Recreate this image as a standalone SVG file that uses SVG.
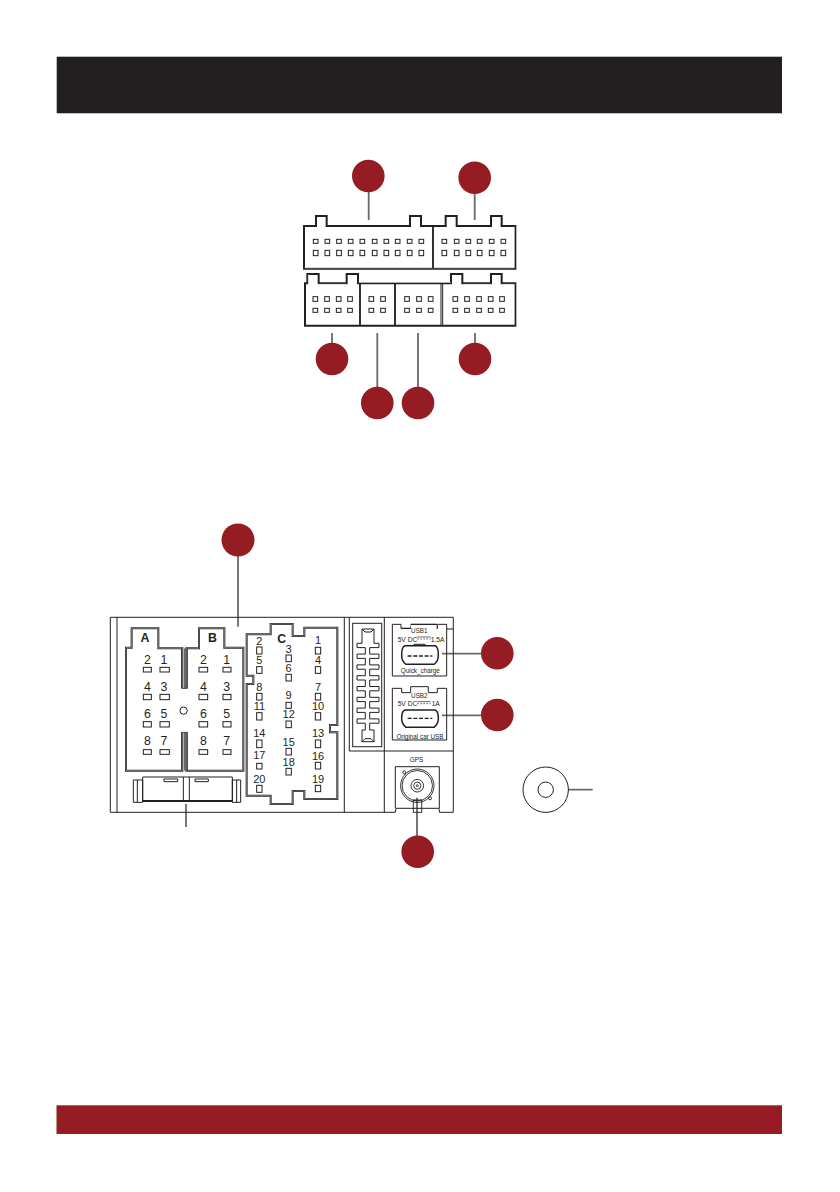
<svg xmlns="http://www.w3.org/2000/svg" width="840" height="1192" viewBox="0 0 840 1192">
<style>
.t{font-family:"Liberation Sans",Arial,sans-serif;fill:#231f20}
.d{font-size:37px;text-anchor:middle}
.c{font-size:33px;text-anchor:middle}
.b{font-size:37px;font-weight:700;text-anchor:middle}
.u{font-size:19px}
.m{text-anchor:middle}
.e{text-anchor:end}
.p{fill:#fff;stroke:#231f20;stroke-width:3}
.l{fill:none;stroke:#231f20;stroke-width:3}
.o{fill:#fff;stroke:#231f20;stroke-width:6}
.i{fill:none;stroke:#fff;stroke-width:1.2}
.k{fill:none;stroke:#231f20;stroke-width:5.5}
.w{fill:none;stroke:#fff;stroke-width:1.6}
.g{stroke:#6a6a6a;stroke-width:1.8;fill:none}
.r{fill:#941c22}
</style>
<defs>
<path id="hAb" d="M78,128H95V70H175V130H247V497H78Z"/>
<path id="hBb" d="M259,130H297V70H373V128H430V497H259Z"/>
<path id="hC" d="M440,88H512V57H578V93H613V68H712V360H690V382H712V582H613V558H578V597H512V572H440V237H460V212H440Z"/>
</defs>
<g id="header"><rect x="56.7" y="56.7" width="725.3" height="56.6" fill="#231f20"/></g>
<g id="footer"><rect x="56.5" y="1105.3" width="725.5" height="28.7" class="r"/></g>

<g id="connectors">
<path class="g" d="M368.7 192V220M474.7 193V220M332 333V345M377.3 333V390M418 333V390M475 333V345M238 556V626.7M186 804V827M442 653.7H481M442 715.3H481M417 797.7V836M568 789.7H592.7"/>
</g>

<g id="connector-block-top" transform="translate(290 150) scale(.33333)">
<path d="M42,228H78V198H110V228H360V198H393V228H467V198H500V228H603V198H635V228H676V356H42Z" fill="#fff" stroke="#231f20" stroke-width="6"/>
<path class="w" d="M673,230V353.500H44"/>
<path d="M429,228V354" class="k"/>
<g class="p">
<rect x="70" y="268" width="14" height="12"/><rect x="105" y="268" width="14" height="12"/><rect x="140" y="268" width="14" height="12"/><rect x="175" y="268" width="14" height="12"/><rect x="210" y="268" width="14" height="12"/><rect x="247" y="268" width="14" height="12"/><rect x="282" y="268" width="14" height="12"/><rect x="316" y="268" width="14" height="12"/><rect x="352" y="268" width="14" height="12"/><rect x="387" y="268" width="14" height="12"/>
<rect x="456" y="268" width="14" height="12"/><rect x="493" y="268" width="14" height="12"/><rect x="528" y="268" width="14" height="12"/><rect x="562" y="268" width="14" height="12"/><rect x="598" y="268" width="14" height="12"/><rect x="633" y="268" width="14" height="12"/>
<rect x="70" y="301" width="14" height="16"/><rect x="105" y="301" width="14" height="16"/><rect x="140" y="301" width="14" height="16"/><rect x="175" y="301" width="14" height="16"/><rect x="210" y="301" width="14" height="16"/><rect x="247" y="301" width="14" height="16"/><rect x="282" y="301" width="14" height="16"/><rect x="316" y="301" width="14" height="16"/><rect x="352" y="301" width="14" height="16"/><rect x="387" y="301" width="14" height="16"/>
<rect x="456" y="301" width="14" height="16"/><rect x="493" y="301" width="14" height="16"/><rect x="528" y="301" width="14" height="16"/><rect x="562" y="301" width="14" height="16"/><rect x="598" y="301" width="14" height="16"/><rect x="633" y="301" width="14" height="16"/>
</g>
</g>

<g id="connector-block-bottom" transform="translate(290 150) scale(.33333)">
<path d="M45,400H52V372H86V400H170V372H204V400H483V372H517V400H603V372H635V400H676V527H45Z" fill="#fff" stroke="#231f20" stroke-width="6"/>
<path class="w" d="M55,374V403H170M206,397.500H483M519,403H603M637,403H673V524"/>
<path class="k" d="M210,400V527M315,400V527"/>
<path d="M453,400V527M458,400V527" class="l"/>
<g class="p">
<rect x="69" y="440" width="14" height="14"/><rect x="104" y="440" width="14" height="14"/><rect x="139" y="440" width="14" height="14"/><rect x="173" y="440" width="14" height="14"/>
<rect x="237" y="440" width="14" height="14"/><rect x="272" y="440" width="14" height="14"/>
<rect x="344" y="440" width="14" height="14"/><rect x="380" y="440" width="14" height="14"/><rect x="415" y="440" width="14" height="14"/>
<rect x="489" y="440" width="14" height="14"/><rect x="524" y="440" width="14" height="14"/><rect x="560" y="440" width="14" height="14"/><rect x="595" y="440" width="14" height="14"/><rect x="629" y="440" width="14" height="14"/>
<rect x="69" y="475" width="14" height="12"/><rect x="104" y="475" width="14" height="12"/><rect x="139" y="475" width="14" height="12"/><rect x="173" y="475" width="14" height="12"/>
<rect x="237" y="475" width="14" height="12"/><rect x="272" y="475" width="14" height="12"/>
<rect x="344" y="475" width="14" height="12"/><rect x="380" y="475" width="14" height="12"/><rect x="415" y="475" width="14" height="12"/>
<rect x="489" y="475" width="14" height="12"/><rect x="524" y="475" width="14" height="12"/><rect x="560" y="475" width="14" height="12"/><rect x="595" y="475" width="14" height="12"/><rect x="629" y="475" width="14" height="12"/>
</g>
</g>

<g id="panel">
<path fill="none" stroke="#231f20" stroke-width="1" d="M110.300,617.300H453.300V812.300H439.500L439,808.300H396L395.300,812.300H110.300ZM117,617.300V812.300M344.300,617.300V812.300M349.300,617.300V751H453.300M384.300,617.300V812.300M395.300,808.300V766.700H439.300V808.300"/>
</g>

<g id="iso-connector" transform="translate(100 605) scale(.33333)">
<use href="#hAb" class="o"/><use href="#hAb" class="i"/>
<use href="#hBb" class="o"/><use href="#hBb" class="i"/>
<rect x="240" y="250" width="24" height="132" fill="#fff"/>
<path class="l" style="stroke-width:2.400" d="M245,250V130M262,250V130M254,250V130M245,250H262M245,382V497M262,382V497M254,382V497M245,382H262"/>
<circle cx="251" cy="317" r="11" class="p"/>
<text class="t b" x="135" y="112">A</text><text class="t b" x="337" y="112">B</text>
<g class="t d">
<text x="142" y="178">2</text><text x="192" y="178">1</text><text x="142" y="258">4</text><text x="192" y="258">3</text><text x="142" y="340">6</text><text x="192" y="340">5</text><text x="142" y="421">8</text><text x="192" y="421">7</text>
<text x="310" y="178">2</text><text x="380" y="178">1</text><text x="310" y="258">4</text><text x="380" y="258">3</text><text x="310" y="340">6</text><text x="380" y="340">5</text><text x="310" y="421">8</text><text x="380" y="421">7</text>
</g>
<g class="p">
<rect x="130" y="187" width="24" height="14"/><rect x="180" y="187" width="28" height="14"/><rect x="130" y="268" width="24" height="16"/><rect x="180" y="268" width="28" height="16"/><rect x="130" y="350" width="24" height="16"/><rect x="180" y="350" width="28" height="16"/><rect x="130" y="434" width="24" height="14"/><rect x="180" y="434" width="28" height="14"/>
<rect x="297" y="187" width="26" height="14"/><rect x="369" y="187" width="24" height="14"/><rect x="297" y="268" width="26" height="16"/><rect x="369" y="268" width="24" height="16"/><rect x="297" y="350" width="26" height="16"/><rect x="369" y="350" width="24" height="16"/><rect x="297" y="434" width="26" height="14"/><rect x="369" y="434" width="24" height="14"/>
</g>
<use href="#hC" class="o"/><use href="#hC" class="i"/>
<text class="t b" x="545" y="113">C</text>
<g class="t c">
<text x="478" y="120">2</text><text x="478" y="178">5</text><text x="478" y="258">8</text><text x="478" y="315">11</text><text x="478" y="397">14</text><text x="478" y="463">17</text><text x="478" y="533">20</text>
<text x="566" y="145">3</text><text x="566" y="200">6</text><text x="566" y="282">9</text><text x="566" y="340">12</text><text x="566" y="422">15</text><text x="566" y="482">18</text>
<text x="654" y="118">1</text><text x="654" y="178">4</text><text x="654" y="258">7</text><text x="654" y="315">10</text><text x="654" y="397">13</text><text x="654" y="465">16</text><text x="654" y="533">19</text>
</g>
<g class="p">
<rect x="470" y="126" width="16" height="21"/><rect x="470" y="185" width="16" height="20"/><rect x="470" y="265" width="16" height="20"/><rect x="470" y="323" width="16" height="22"/><rect x="470" y="405" width="16" height="23"/><rect x="470" y="475" width="16" height="17"/><rect x="470" y="541" width="16" height="21"/>
<rect x="558" y="150" width="16" height="20"/><rect x="558" y="208" width="16" height="20"/><rect x="558" y="292" width="16" height="18"/><rect x="558" y="348" width="16" height="20"/><rect x="558" y="430" width="16" height="20"/><rect x="558" y="490" width="16" height="20"/>
<rect x="646" y="127" width="16" height="20"/><rect x="646" y="185" width="16" height="20"/><rect x="646" y="265" width="16" height="20"/><rect x="646" y="323" width="16" height="22"/><rect x="646" y="405" width="16" height="23"/><rect x="646" y="472" width="16" height="20"/><rect x="646" y="541" width="16" height="19"/>
</g>
<path class="l" d="M128,516H397V588H128ZM100,525H128V592H100ZM397,525H422V592H397ZM250,516V588M268,516V588M112,525V592M410,525V592M192,522H233V530H192ZM285,522H325V530H285Z"/>
<path d="M128,588H397" class="k"/>
</g>

<g id="fishbone">
<rect x="352.700" y="623.300" width="29" height="123.400" fill="none" stroke="#231f20" stroke-width="1"/>
<path fill="none" stroke="#231f20" stroke-width="1" d="M362,629H374V643.300H379V647.600H369.700V654.100H379V658.400H369.700V664.900H379V669.200H369.700V675.700H379V680H369.700V686.500H379V690.800H369.700V697.300H379V701.600H369.700V708.100H379V712.400H369.700V718.900H379V723.200H369.700V730H374V741.700H362V730H365.300V723.200H357V718.900H365.300V712.400H357V708.100H365.300V701.600H357V697.300H365.300V690.800H357V686.500H365.300V680H357V675.700H365.300V669.200H357V664.900H365.300V658.400H357V654.100H365.300V647.600H357V643.300H362ZM362,629L365,632H371L374,629M362,741.700L365,738.700H371L374,741.700"/>
</g>

<g id="usb1" transform="translate(340 605) scale(.33333)">
<path class="l" d="M157,58H183V70H213V58H290V70H292V58H320V213H157Z"/>
<path class="l" d="M320,72H340"/>
<rect x="213" y="60" width="77" height="12" fill="#fff"/>
<path class="l" d="M183,70H213M290,70H292M213,58H290"/>
<text class="t u m" x="238" y="83">USB1</text>
<text class="t u" x="173" y="110" font-size="20" style="font-size:20px">5V DC</text>
<text class="t u e" x="313" y="110" style="font-size:20px">1.5A</text>
<path class="l" style="stroke-width:2" d="M232,96H272"/>
<path fill="none" stroke="#231f20" stroke-width="2" stroke-dasharray="5 4" d="M232,102H272"/>
<path class="o" style="stroke-width:4.500" d="M195,122H285Q295,125 295,150Q295,170 282,178H198Q185,170 185,150Q185,125 195,122Z"/>
<path class="l" d="M222,122V118H255V122"/>
<path fill="none" stroke="#231f20" stroke-width="4" stroke-dasharray="12 5" d="M203,153H277"/>
<text class="t u m" x="241" y="203">Quick_charge</text>
</g>

<g id="usb2" transform="translate(340 605) scale(.33333)">
<path class="l" d="M157,250H185V263H212V245H265V263H292V250H320V405H157Z"/>
<text class="t u m" x="238" y="279">USB2</text>
<text class="t u" x="173" y="302" style="font-size:20px">5V DC</text>
<text class="t u" x="275" y="302" style="font-size:20px">1A</text>
<path class="l" style="stroke-width:2" d="M232,290H272"/>
<path fill="none" stroke="#231f20" stroke-width="2" stroke-dasharray="5 4" d="M232,296H272"/>
<path class="o" style="stroke-width:4.500" d="M195,315H285Q295,318 295,340Q295,358 282,367H198Q185,358 185,340Q185,318 195,315Z"/>
<path fill="none" stroke="#231f20" stroke-width="4" stroke-dasharray="12 5" d="M203,340H277"/>
<text class="t u m" x="240" y="402">Original car USB</text>
</g>

<g id="gps" fill="none" stroke="#231f20" stroke-width=".9">
<text class="t m" stroke="none" x="416.500" y="761.500" font-size="6.500">GPS</text>
<circle cx="417.300" cy="785.700" r="16.700"/><circle cx="417.300" cy="785.700" r="15.200"/><circle cx="417.300" cy="785.700" r="6.300"/><circle cx="417.300" cy="785.700" r="3.600"/><circle cx="417.300" cy="785.700" r="1"/>
<circle cx="404.300" cy="772.300" r="1.500"/><circle cx="430" cy="798.300" r="1.500"/>
<rect x="413.300" y="800" width="8.400" height="12.300"/>
</g>

<g id="antenna-plug" fill="none" stroke="#231f20" stroke-width="1">
<circle cx="545.700" cy="789.700" r="22.700"/><circle cx="545.700" cy="789.700" r="7.700"/>
</g>

<g id="markers" class="r">
<circle cx="368.300" cy="176" r="16.300"/><circle cx="474.700" cy="177.700" r="16.300"/><circle cx="332" cy="359" r="16.300"/><circle cx="475" cy="359" r="16.300"/><circle cx="377.300" cy="403" r="16.300"/><circle cx="418" cy="403" r="16.300"/><circle cx="238" cy="540" r="16.500"/><circle cx="497.300" cy="653.300" r="16.300"/><circle cx="497.300" cy="715" r="16.300"/><circle cx="417.700" cy="851.700" r="16.300"/>
</g>
</svg>
